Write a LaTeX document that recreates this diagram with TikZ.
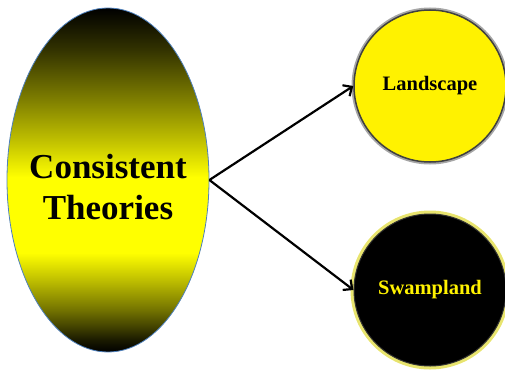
\documentclass[tikz,border=0pt]{standalone}
\usepackage{fontspec}
\setmainfont{Liberation Serif}
\usetikzlibrary{shapes.geometric,arrows.meta}
\definecolor{rimblue}{RGB}{79,129,189}
\definecolor{glowyellow}{RGB}{232,228,110}
\pgfdeclareverticalshading{ctshade}{100bp}{color(0bp)=(black); color(25bp)=(black); color(26.7bp)=(yellow!10!black); color(31.1bp)=(yellow!45!black); color(35.5bp)=(yellow!75!black); color(39.4bp)=(yellow); color(50.4bp)=(yellow); color(55.8bp)=(yellow!75!black); color(61.6bp)=(yellow!50!black); color(68.9bp)=(yellow!20!black); color(75bp)=(black); color(100bp)=(black)}

\begin{document}
\begin{tikzpicture}[x=1pt, y=-1pt]
	\tikzstyle{every node}=[align=center, inner sep=1pt]
	\tikzstyle{ball}=[circle, minimum size=152pt, font=\fontsize{20.5}{24}\selectfont\bfseries]
	\useasboundingbox (0,0) rectangle (505,369);

	\node[ellipse, minimum width=202pt, minimum height=344pt, shading=ctshade, draw=rimblue, line width=0.8pt, font=\fontsize{35}{41}\selectfont\bfseries] (C) at (108,180) {\rule{0pt}{39pt}\makebox[0pt]{Consistent}\\ \makebox[0pt]{Theories}};
	\node[ball, fill=yellow, draw=black!75, line width=1.5pt, preaction={draw=black!35, line width=5pt}] (L) at (430,86) {Landscape};
	\node[ball, fill=black, text=yellow, draw=black!80, line width=1pt, preaction={draw=glowyellow, line width=7pt}] (S) at (430,290) {Swampland};

	\draw[-{Straight Barb[length=7pt,width=13pt]}, line width=2.2pt]  (C.east) to (L.west);
	\draw[-{Straight Barb[length=7pt,width=13pt]}, line width=2.2pt]  (C.east) to (S.west);
\end{tikzpicture}
\end{document}
